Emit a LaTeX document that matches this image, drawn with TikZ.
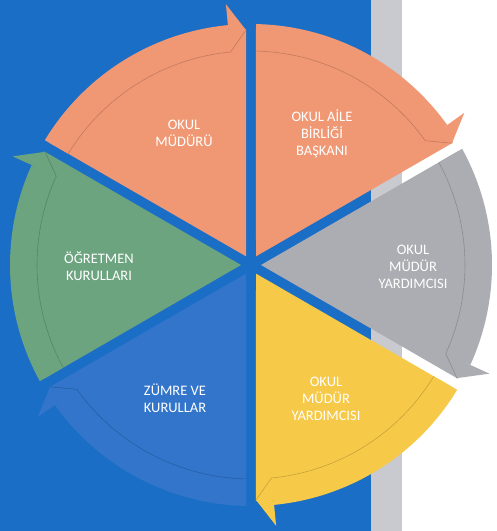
\documentclass[tikz,border=0pt]{standalone}
\usepackage{fontspec}
\setmainfont{Carlito}
\definecolor{bgblue}{RGB}{26,110,198}
\definecolor{stripgrey}{RGB}{201,202,207}
\definecolor{salmon}{RGB}{240,152,116}
\definecolor{segrey}{RGB}{172,173,178}
\definecolor{seyellow}{RGB}{246,201,72}
\definecolor{seblue}{RGB}{50,117,203}
\definecolor{segreen}{RGB}{108,164,128}
\tikzset{lbl/.style={text=white, align=center, inner sep=0pt, font=\fontsize{14.5}{17}\selectfont}}
\newcommand{\cycseg}[2]{%
  \pgfmathsetmacro{\sA}{#1+1.21}%
  \pgfmathsetmacro{\sB}{#1+60-1.21}%
  \pgfmathsetmacro{\sM}{#1+30}%
  \pgfmathsetmacro{\oB}{#1+60-1.19}%
  \pgfmathsetmacro{\iB}{#1+60-1.34}%
  \pgfmathsetmacro{\hB}{#1+5.5}%
  \pgfmathsetmacro{\hT}{#1+1.22}%
  \fill[#2] (\sM:10) -- (\sA:236) arc[start angle=\sA, end angle=\sB, radius=236] -- cycle;
  \fill[#2] (\oB:241) arc[start angle=\oB, end angle=\hB, radius=241] -- (\hB:214) arc[start angle=\hB, end angle=\iB, radius=214] -- cycle;
  \fill[#2] (\hB:262) -- (\hT:235) -- (\hB:208) -- cycle;
  \draw[#2!65!black, line width=0.6pt, opacity=0.55] (\iB:214) arc[start angle=\iB, end angle=\hB, radius=214] -- (\hT:235);
}
\begin{document}
\begin{tikzpicture}[x=1pt, y=1pt]
\useasboundingbox (0,0) rectangle (497,531);
\fill[white] (0,0) rectangle (497,531);
\fill[bgblue] (0,0) rectangle (371,531);
\fill[stripgrey] (371,0) rectangle (402,531);
\begin{scope}[shift={(251,266)}]
  \cycseg{90}{salmon}
  \cycseg{30}{salmon}
  \cycseg{-30}{segrey}
  \cycseg{-90}{seyellow}
  \cycseg{-150}{seblue}
  \cycseg{150}{segreen}
\end{scope}
\node[lbl] (t1) at (184,398) {OKUL\\MÜDÜRÜ};
\node[lbl] (t2) at (322,397) {OKUL AİLE\\BİRLİĞİ\\BAŞKANI};
\node[lbl] (t3) at (413,264) {OKUL\\MÜDÜR\\YARDIMCISI};
\node[lbl] (t4) at (326,132) {OKUL\\MÜDÜR\\YARDIMCISI};
\node[lbl] (t5) at (175,133) {ZÜMRE VE\\KURULLAR};
\node[lbl] (t6) at (99,265) {ÖĞRETMEN\\KURULLARI};
\end{tikzpicture}
\end{document}
